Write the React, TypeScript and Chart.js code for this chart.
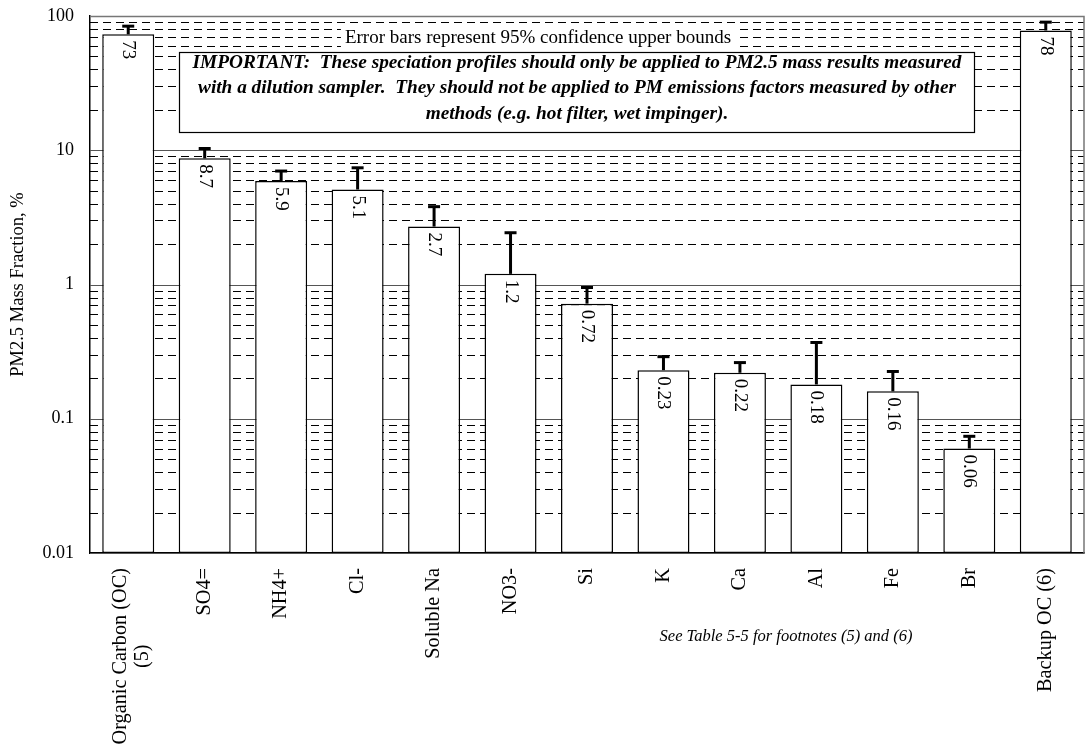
import React, { useEffect, useRef } from "react";
import { Chart, registerables } from "chart.js";

Chart.register(...registerables);

// Species on the x axis (multi-line labels are arrays)
const categories: string[][] = [
  ["Organic Carbon (OC)", "(5)"],
  ["SO4="],
  ["NH4+"],
  ["Cl-"],
  ["Soluble Na"],
  ["NO3-"],
  ["Si"],
  ["K"],
  ["Ca"],
  ["Al"],
  ["Fe"],
  ["Br"],
  ["Backup OC (6)"],
];

// PM2.5 mass fraction, %
const massFraction = [73, 8.7, 5.9, 5.1, 2.7, 1.2, 0.72, 0.23, 0.22, 0.18, 0.16, 0.06, 78];
const valueLabels = ["73", "8.7", "5.9", "5.1", "2.7", "1.2", "0.72", "0.23", "0.22", "0.18", "0.16", "0.06", "78"];

// 95% confidence upper bounds
const upperBound = [84, 10.3, 7.0, 7.4, 3.8, 2.43, 0.95, 0.29, 0.262, 0.37, 0.225, 0.074, 90];

const yTicks = [0.01, 0.1, 1, 10, 100];
const yTickLabels = ["0.01", "0.1", "1", "10", "100"];

const yTitle = "PM2.5 Mass Fraction, %";
const noteText = "Error bars represent 95% confidence upper bounds";
const importantLines = [
  "IMPORTANT:  These speciation profiles should only be applied to PM2.5 mass results measured",
  "with a dilution sampler.  They should not be applied to PM emissions factors measured by other",
  "methods (e.g. hot filter, wet impinger).",
];
const footnote = "See Table 5-5 for footnotes (5) and (6)";

const SERIF = '"Liberation Serif", "Times New Roman", serif';

// Solid decade lines and dashed minor lines behind the bars
const logGridPlugin = {
  id: "logGrid",
  beforeDatasetsDraw(chart: any) {
    const { ctx, chartArea, scales } = chart;
    const { left, right } = chartArea;
    const y = scales.y;
    ctx.save();
    ctx.lineWidth = 1;
    ctx.strokeStyle = "#000";
    ctx.setLineDash([8, 5]);
    for (let d = 0; d < yTicks.length - 1; d++) {
      for (let m = 2; m <= 9; m++) {
        const py = Math.round(y.getPixelForValue(yTicks[d] * m)) + 0.5;
        ctx.beginPath();
        ctx.moveTo(left, py);
        ctx.lineTo(right, py);
        ctx.stroke();
      }
    }
    ctx.setLineDash([]);
    ctx.strokeStyle = "#555";
    for (const t of yTicks) {
      const py = Math.round(y.getPixelForValue(t)) + 0.5;
      ctx.beginPath();
      ctx.moveTo(left, py);
      ctx.lineTo(right, py);
      ctx.stroke();
    }
    ctx.restore();
  },
};

// Error bars, value labels, annotations and axis labels
const decorPlugin = {
  id: "decor",
  afterDatasetsDraw(chart: any) {
    const { ctx, chartArea, scales } = chart;
    const y = scales.y;
    const meta = chart.getDatasetMeta(0);
    ctx.save();

    // upper error bars
    ctx.strokeStyle = "#000";
    ctx.lineCap = "butt";
    meta.data.forEach((bar: any, i: number) => {
      const x = bar.x;
      const yTop = y.getPixelForValue(upperBound[i]);
      ctx.lineWidth = 3;
      ctx.beginPath();
      ctx.moveTo(x, bar.y);
      ctx.lineTo(x, yTop);
      ctx.stroke();
      ctx.beginPath();
      ctx.moveTo(x - 6, yTop);
      ctx.lineTo(x + 6, yTop);
      ctx.stroke();
    });

    // value labels, rotated inside each bar
    ctx.fillStyle = "#000";
    ctx.font = `19px ${SERIF}`;
    ctx.textAlign = "left";
    ctx.textBaseline = "middle";
    meta.data.forEach((bar: any, i: number) => {
      ctx.save();
      ctx.translate(bar.x, bar.y + 6);
      ctx.rotate(Math.PI / 2);
      ctx.fillText(valueLabels[i], 0, 0);
      ctx.restore();
    });

    // note above the box
    ctx.font = `19px ${SERIF}`;
    ctx.textAlign = "center";
    const noteW = ctx.measureText(noteText).width;
    ctx.fillStyle = "#fff";
    ctx.fillRect(538 - noteW / 2 - 4, 27, noteW + 8, 22);
    ctx.fillStyle = "#000";
    ctx.fillText(noteText, 538, 38);

    // boxed warning
    ctx.fillStyle = "#fff";
    ctx.fillRect(179.5, 52.5, 795, 80);
    ctx.lineWidth = 1.2;
    ctx.strokeStyle = "#000";
    ctx.strokeRect(179.5, 52.5, 795, 80);
    ctx.fillStyle = "#000";
    ctx.font = `italic bold 19.3px ${SERIF}`;
    importantLines.forEach((line, i) => {
      ctx.fillText(line, 577, 63 + i * 25.5);
    });

    // category labels, rotated and centred as a block under each bar
    ctx.font = `20.3px ${SERIF}`;
    const lh = 22;
    meta.data.forEach((bar: any, i: number) => {
      const lines = categories[i];
      const maxW = Math.max(...lines.map((l) => ctx.measureText(l).width));
      ctx.save();
      ctx.translate(bar.x + (lines.length > 1 ? 3 : 0), chartArea.bottom + 15);
      ctx.rotate(-Math.PI / 2);
      ctx.textAlign = "center";
      lines.forEach((l, j) => {
        ctx.fillText(l, -maxW / 2, (j - (lines.length - 1) / 2) * lh);
      });
      ctx.restore();
    });

    // footnote
    ctx.font = `italic 16.5px ${SERIF}`;
    ctx.textAlign = "center";
    ctx.fillText(footnote, 786, 637);

    // y axis title
    ctx.font = `18.5px ${SERIF}`;
    ctx.save();
    ctx.translate(18, (chartArea.top + chartArea.bottom) / 2);
    ctx.rotate(-Math.PI / 2);
    ctx.textAlign = "center";
    ctx.fillText(yTitle, 0, 0);
    ctx.restore();

    // plot frame (top and right)
    ctx.strokeStyle = "#777";
    ctx.lineWidth = 1.5;
    ctx.beginPath();
    ctx.moveTo(chartArea.left, chartArea.top + 0.5);
    ctx.lineTo(chartArea.right, chartArea.top + 0.5);
    ctx.lineTo(chartArea.right, chartArea.bottom);
    ctx.stroke();

    ctx.restore();
  },
};

export default function App() {
  const canvasRef = useRef<HTMLCanvasElement | null>(null);

  useEffect(() => {
    if (!canvasRef.current) return;
    const chart = new Chart(canvasRef.current, {
      type: "bar",
      data: {
        labels: categories.map((c) => c.join(" ")),
        datasets: [
          {
            data: massFraction,
            backgroundColor: "#fff",
            borderColor: "#000",
            borderWidth: 1.5,
            borderSkipped: false,
            barPercentage: 0.68,
            categoryPercentage: 1,
          },
        ],
      },
      options: {
        animation: false,
        responsive: true,
        maintainAspectRatio: false,
        layout: { padding: { top: 16, right: 5, left: 0, bottom: 0 } },
        plugins: { legend: { display: false }, tooltip: { enabled: false } },
        scales: {
          x: {
            type: "category",
            grid: { display: false, drawTicks: false },
            ticks: { display: false },
            border: { display: true, color: "#000", width: 1.5 },
            afterFit: (s: any) => {
              s.height = 193;
            },
          },
          y: {
            type: "logarithmic",
            min: 0.01,
            max: 100,
            grid: { display: false, drawTicks: false },
            border: { display: true, color: "#000", width: 1.5 },
            afterBuildTicks: (s: any) => {
              s.ticks = yTicks.map((v) => ({ value: v }));
            },
            ticks: {
              autoSkip: false,
              padding: 16,
              color: "#000",
              font: { family: SERIF, size: 18 },
              callback: (v: any) => {
                const i = yTicks.indexOf(Number(v));
                return i >= 0 ? yTickLabels[i] : "";
              },
            },
            afterFit: (s: any) => {
              s.width = 90;
              s.paddingTop = 0;
              s.paddingBottom = 0;
            },
          },
        },
      },
      plugins: [logGridPlugin, decorPlugin],
    });
    return () => chart.destroy();
  }, []);

  return (
    <div style={{ position: "fixed", left: 0, top: 0, width: 1089, height: 746, background: "#fff" }}>
      <canvas ref={canvasRef} />
    </div>
  );
}
